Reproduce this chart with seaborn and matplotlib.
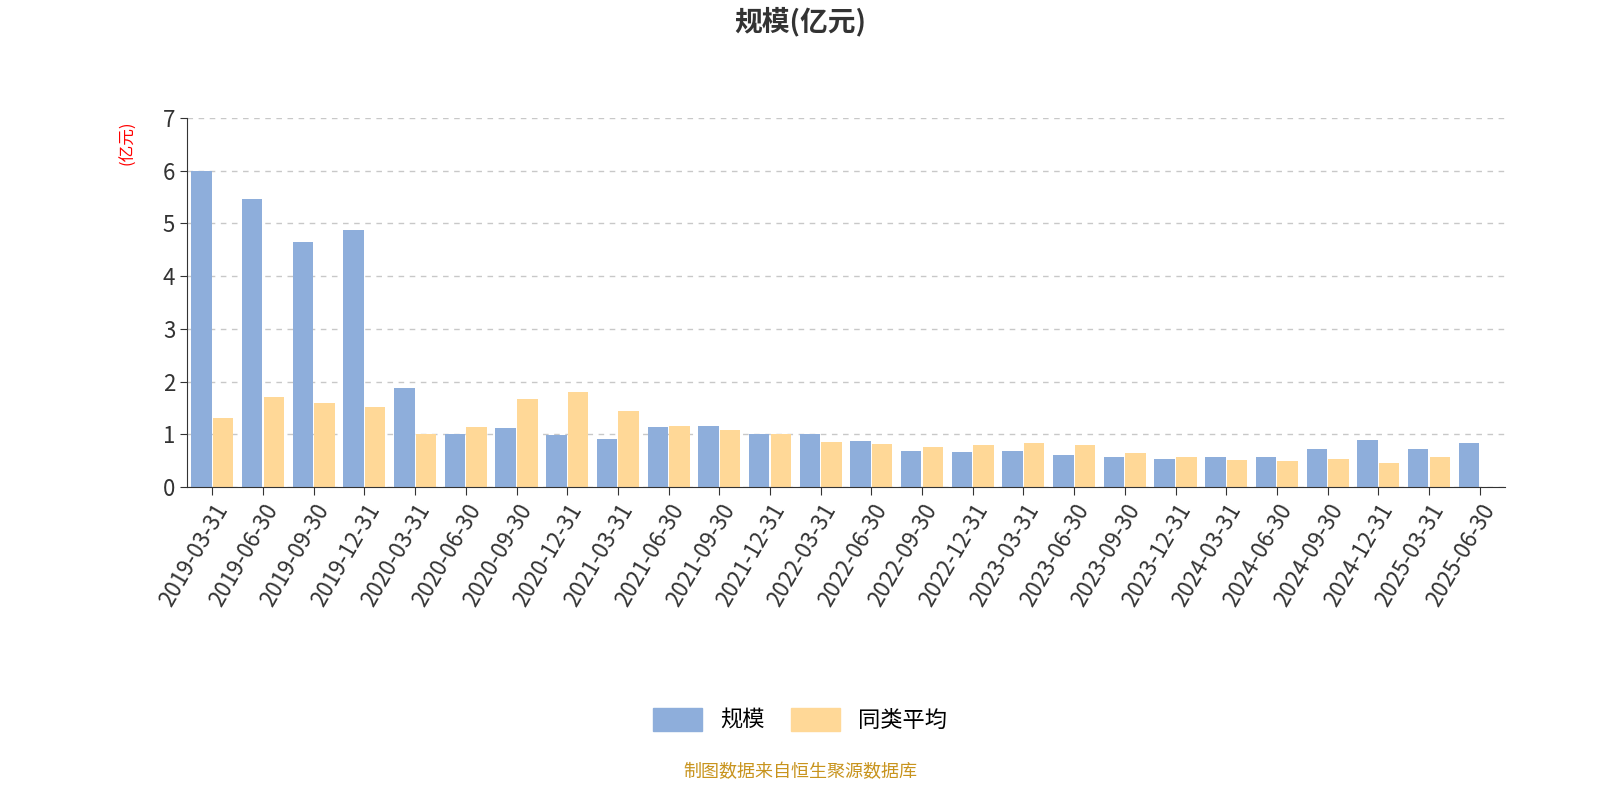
import matplotlib
matplotlib.use("Agg")
import matplotlib.pyplot as plt
from matplotlib import font_manager
import seaborn as sns
import pandas as pd
import numpy as np

dates = ["2019-03-31","2019-06-30","2019-09-30","2019-12-31","2020-03-31","2020-06-30",
         "2020-09-30","2020-12-31","2021-03-31","2021-06-30","2021-09-30","2021-12-31",
         "2022-03-31","2022-06-30","2022-09-30","2022-12-31","2023-03-31","2023-06-30",
         "2023-09-30","2023-12-31","2024-03-31","2024-06-30","2024-09-30","2024-12-31",
         "2025-03-31","2025-06-30"]
scale = [6.0,5.47,4.65,4.88,1.88,1.0,1.12,0.99,0.91,1.14,1.16,1.0,1.0,0.87,0.68,0.66,
         0.68,0.61,0.57,0.53,0.57,0.57,0.72,0.89,0.72,0.83]
peer = [1.31,1.70,1.59,1.51,1.0,1.13,1.66,1.80,1.44,1.16,1.08,1.0,0.85,0.82,0.75,0.80,
        0.84,0.79,0.64,0.57,0.51,0.49,0.53,0.45,0.56,np.nan]

cjk = None
for f in font_manager.fontManager.ttflist:
    if "CJK" in f.name and ("SC" in f.name or cjk is None):
        cjk = f.name
if cjk is None:
    import glob
    for p in glob.glob("/usr/share/fonts/**/*CJK*", recursive=True):
        try:
            font_manager.fontManager.addfont(p)
        except Exception:
            pass
    for f in font_manager.fontManager.ttflist:
        if "CJK" in f.name:
            cjk = f.name
            break
plt.rcParams["font.family"] = "sans-serif"
plt.rcParams["font.sans-serif"] = [cjk or "Noto Sans CJK SC", "DejaVu Sans"]

df = pd.DataFrame({"date": dates * 2, "value": scale + peer,
                   "series": ["规模"] * len(dates) + ["同类平均"] * len(dates)})

fig = plt.figure(figsize=(16, 8), dpi=100)
ax = fig.add_axes([187/1600, 1-487/800, (1505-187)/1600, (487-118)/800])
sns.barplot(data=df, x="date", y="value", hue="series", ax=ax, saturation=1,
            palette=["#8eaedb", "#ffd897"], width=0.85, gap=0.05, legend=False)
ax.set_ylim(0, 7)
ax.set_xlim(-0.5, len(dates) - 0.5)
ax.set_yticks(range(8))
ax.yaxis.grid(True, linestyle=(0, (4, 4)), color="#c8c8c8", linewidth=1)
ax.set_axisbelow(True)
for s in ["top", "right"]:
    ax.spines[s].set_visible(False)
ax.spines["left"].set_color("#333")
ax.spines["bottom"].set_color("#333")
ax.set_xlabel(""); ax.set_ylabel("")
ax.tick_params(axis="y", labelsize=16, colors="#333", length=5)
ax.tick_params(axis="x", labelsize=16, colors="#333", length=6)
plt.setp(ax.get_xticklabels(), rotation=60, ha="right", rotation_mode="anchor")
fig.text(128/1600, 1-143/800, "(亿元)", color="red", fontsize=12, rotation=90, ha="center", va="center")
fig.suptitle("规模(亿元)", y=1-22/800, fontsize=20, fontweight="bold", color="#333", va="center")

from matplotlib.patches import Patch
handles = [Patch(facecolor="#8eaedb", edgecolor="#8eaedb"), Patch(facecolor="#ffd897", edgecolor="#ffd897")]
fig.legend(handles, ["规模", "同类平均"], loc="center", bbox_to_anchor=(0.5, 1-720/800),
           ncol=2, frameon=False, fontsize=16, handlelength=2.2, handleheight=1.2, columnspacing=1.2)
fig.text(0.5, 1-772/800, "制图数据来自恒生聚源数据库", color="#c8941e", fontsize=13, ha="center", va="center")
fig.savefig("out.png", dpi=100)
